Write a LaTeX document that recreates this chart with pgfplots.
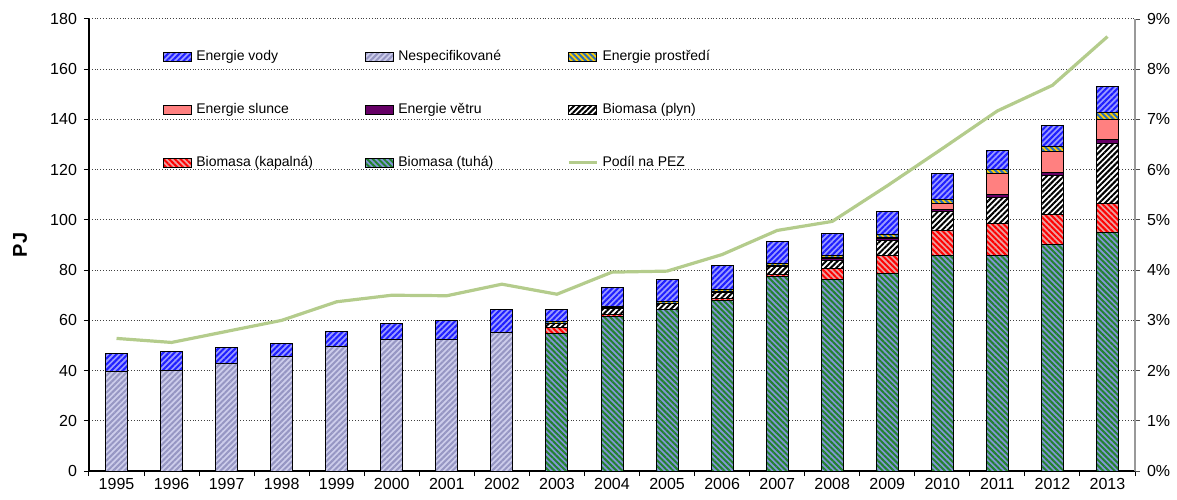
\documentclass[border=0pt]{standalone}
\usepackage{fontspec}
\setmainfont{Liberation Sans}
\usepackage{pgfplots}
\pgfplotsset{compat=1.18}
\usepackage{pgfplotstable}
\usetikzlibrary{patterns.meta}

\definecolor{vodyB}{RGB}{155,155,255}
\definecolor{vodyF}{RGB}{30,30,255}
\definecolor{nespB}{RGB}{205,205,235}
\definecolor{nespF}{RGB}{150,150,195}
\definecolor{prosB}{RGB}{255,204,0}
\definecolor{prosF}{RGB}{40,110,190}
\definecolor{slunB}{RGB}{255,128,128}
\definecolor{vetrB}{RGB}{102,0,102}
\definecolor{plynB}{RGB}{255,255,255}
\definecolor{plynF}{RGB}{0,0,0}
\definecolor{kapB}{RGB}{235,160,160}
\definecolor{kapF}{RGB}{255,0,0}
\definecolor{tuhaB}{RGB}{130,150,215}
\definecolor{tuhaF}{RGB}{35,130,45}
\definecolor{pezG}{RGB}{180,204,140}

\pgfplotstableread{
idx year tuha kap plyn vetru slunce prostr nesp vody pez
0  1995 0    0    0    0   0   0   39.6 7.2  2.64
1  1996 0    0    0    0   0   0   40.2 7.2  2.56
2  1997 0    0    0    0   0   0   42.9 6.4  2.78
3  1998 0    0    0    0   0   0   45.4 5.3  3.00
4  1999 0    0    0    0   0   0   49.4 6.1  3.37
5  2000 0    0    0    0   0   0   52.4 6.5  3.50
6  2001 0    0    0    0   0   0   52.4 7.6  3.49
7  2002 0    0    0    0   0   0   55.2 9.0  3.72
8  2003 54.8 2.2  1.9  0.0 0.0 0.5 0    5.0  3.52
9  2004 61.7 0.8  2.3  0.1 0.1 0.6 0    7.6  3.96
10 2005 64.4 0.1  2.2  0.1 0.0 0.6 0    8.8  3.98
11 2006 68.0 0.6  2.6  0.2 0.1 0.7 0    9.8  4.31
12 2007 77.4 0.9  3.0  0.3 0.3 0.8 0    8.5  4.79
13 2008 76.3 4.2  3.3  0.8 0.5 0.9 0    8.5  4.97
14 2009 78.7 7.3  5.6  0.9 0.4 1.3 0    9.1  5.68
15 2010 86.0 9.9  7.3  0.9 2.5 1.5 0    10.5 6.42
16 2011 86.0 12.6 10.4 1.3 8.0 1.6 0    7.8  7.17
17 2012 90.1 11.9 15.6 1.2 8.3 2.0 0    8.4  7.68
18 2013 94.9 11.5 24.0 1.5 8.0 2.8 0    10.5 8.65
}\datatable

\pgfplotsset{
  legimg/.style={legend image code/.code={\draw[##1] (0pt,-2.1pt) rectangle (14pt,2.1pt);}},
  lineleg/.style={legend image code/.code={\draw[##1] (0pt,0pt) -- (14pt,0pt);}},
  sVody/.style={draw=black, line width=0.5pt, fill=vodyB, postaction={pattern={Lines[angle=45,distance=2pt,line width=1pt]}, pattern color=vodyF}, legimg},
  sNesp/.style={draw=black, line width=0.5pt, fill=nespB, postaction={pattern={Lines[angle=45,distance=2pt,line width=1pt]}, pattern color=nespF}, legimg},
  sPros/.style={draw=black, line width=0.5pt, fill=prosB, postaction={pattern={Lines[angle=-45,distance=2pt,line width=1pt]}, pattern color=prosF}, legimg},
  sSlun/.style={draw=black, line width=0.5pt, fill=slunB, legimg},
  sVetr/.style={draw=black, line width=0.5pt, fill=vetrB, legimg},
  sPlyn/.style={draw=black, line width=0.5pt, fill=plynB, postaction={pattern={Lines[angle=45,distance=2pt,line width=1pt]}, pattern color=plynF}, legimg},
  sKap/.style={draw=black, line width=0.5pt, fill=kapB, postaction={pattern={Lines[angle=-45,distance=2pt,line width=1pt]}, pattern color=kapF}, legimg},
  sTuha/.style={draw=black, line width=0.5pt, fill=tuhaB, postaction={pattern={Lines[angle=-45,distance=2pt,line width=1pt]}, pattern color=tuhaF}, legimg},
}

\begin{document}
\begin{tikzpicture}
\begin{axis}[
  name=main,
  width=523pt, height=226pt, scale only axis,
  xmin=-0.5, xmax=18.5, ymin=0, ymax=180,
  ybar stacked, bar width=11pt,
  axis x line*=bottom, axis y line*=left,
  axis line style={black, line width=0.6pt},
  xtick={-0.5,0.5,...,18.5}, xticklabels={},
  extra x ticks={0,1,...,18},
  extra x tick labels={1995,1996,1997,1998,1999,2000,2001,2002,2003,2004,2005,2006,2007,2008,2009,2010,2011,2012,2013},
  extra x tick style={major tick length=0pt, grid=none},
  ytick={0,20,...,180},
  tick align=outside, major tick length=2.5pt,
  tick style={black, line width=0.5pt},
  ymajorgrids, grid style={densely dotted, black!75, line width=0.5pt},
  tick label style={font=\fontsize{8}{9.6}\selectfont},
  /pgf/number format/assume math mode=true,
  ylabel={\bfseries PJ},
  ylabel style={font=\fontsize{8}{9.6}\selectfont},
  every axis y label/.style={at={(axis description cs:-0.066,0.5)}, rotate=90, anchor=center},
  legend columns=3, reverse legend,
  legend cell align=left,
  legend style={draw=none, fill=none, at={(rel axis cs:0.0707,0.94)}, anchor=north west,
     font=\fontsize{7}{8.4}\selectfont, inner sep=0pt, row sep=15.8pt,
     /tikz/every even column/.append style={column sep=0pt}},
]
\addlegendimage{color=pezG, line width=1.6pt, lineleg}
\addlegendentry{Podíl na PEZ}
\addplot[sTuha] table[x=idx, y=tuha] {\datatable};
\addlegendentry{\makebox[82.5pt][l]{Biomasa (tuhá)}}
\addplot[sKap] table[x=idx, y=kap] {\datatable};
\addlegendentry{\makebox[82.5pt][l]{Biomasa (kapalná)}}
\addplot[sPlyn] table[x=idx, y=plyn] {\datatable};
\addlegendentry{Biomasa (plyn)}
\addplot[sVetr] table[x=idx, y=vetru] {\datatable};
\addlegendentry{\makebox[82.5pt][l]{Energie větru}}
\addplot[sSlun] table[x=idx, y=slunce] {\datatable};
\addlegendentry{\makebox[82.5pt][l]{Energie slunce}}
\addplot[sPros] table[x=idx, y=prostr] {\datatable};
\addlegendentry{Energie prostředí}
\addplot[sNesp] table[x=idx, y=nesp] {\datatable};
\addlegendentry{\makebox[82.5pt][l]{Nespecifikované}}
\addplot[sVody] table[x=idx, y=vody] {\datatable};
\addlegendentry{\makebox[82.5pt][l]{Energie vody}}
\end{axis}
\begin{axis}[
  width=523pt, height=226pt, scale only axis,
  xmin=-0.5, xmax=18.5, ymin=0, ymax=9,
  axis x line=none, axis y line*=right,
  axis line style={black!40, line width=0.8pt},
  ytick={0,1,...,9},
  yticklabel={\pgfmathprintnumber{\tick}\%},
  tick align=outside, major tick length=2.5pt,
  tick style={black!70, line width=0.5pt},
  tick label style={font=\fontsize{8}{9.6}\selectfont},
  /pgf/number format/assume math mode=true,
]
\addplot[color=pezG, line width=1.6pt] table[x=idx, y=pez] {\datatable};
\end{axis}
\pgfresetboundingbox
\useasboundingbox ([xshift=-44.5pt,yshift=-14pt]main.south west) rectangle ([xshift=21pt,yshift=9.5pt]main.north east);
\end{tikzpicture}
\end{document}
